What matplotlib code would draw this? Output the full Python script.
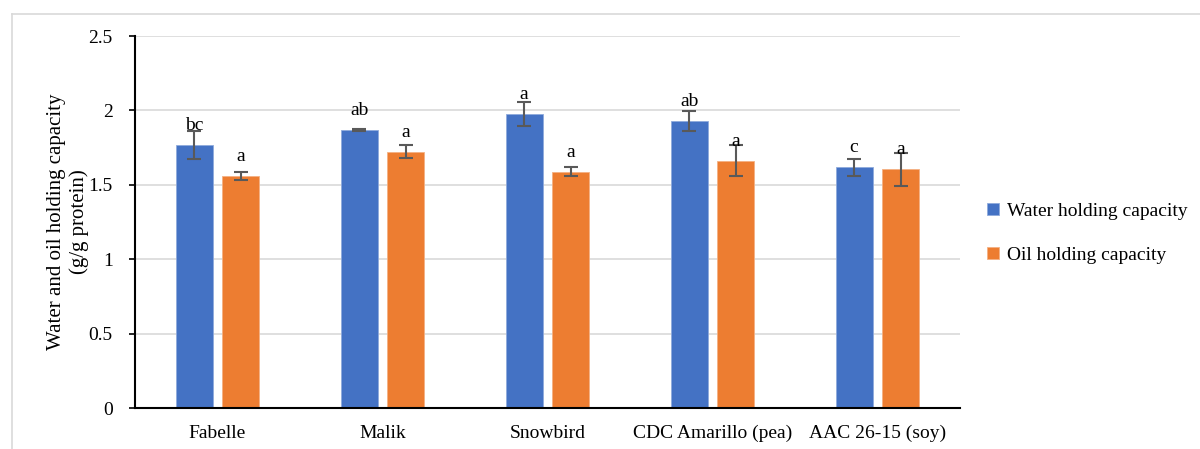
import matplotlib
matplotlib.use('Agg')
import matplotlib.pyplot as plt
from matplotlib.lines import Line2D
import numpy as np

plt.rcParams['font.family'] = ['Liberation Serif', 'DejaVu Serif']

# data
cultivars = ['Fabelle', 'Malik', 'Snowbird', 'CDC Amarillo (pea)', 'AAC 26-15 (soy)']
water = [1.767, 1.870, 1.974, 1.929, 1.617]
water_err = [0.096, 0.007, 0.081, 0.066, 0.059]
water_letters = ['bc', 'ab', 'a', 'ab', 'c']
oil = [1.559, 1.722, 1.588, 1.662, 1.604]
oil_err = [0.030, 0.045, 0.030, 0.103, 0.112]
oil_letters = ['a', 'a', 'a', 'a', 'a']

blue = '#4472C4'
orange = '#ED7D31'

fig = plt.figure(figsize=(12, 4.49), dpi=100)
ax = fig.add_axes([0.1125, 0.0913, 0.6875, 0.8285])

x = np.arange(len(cultivars))
w = 0.225
off = 0.142
err_kw = dict(ecolor='#595959', elinewidth=1.5, capsize=5, capthick=1.5)
b1 = ax.bar(x - off, water, w, yerr=water_err, color=blue, edgecolor='#8faadc',
            linewidth=0.6, error_kw=err_kw, label='Water holding capacity', zorder=2)
b2 = ax.bar(x + off, oil, w, yerr=oil_err, color=orange, edgecolor='#f4b183',
            linewidth=0.6, error_kw=err_kw, label='Oil holding capacity', zorder=2)

for xi, v, t in zip(x - off, water, water_letters):
    ax.annotate(t, (xi, v), xytext=(0, 8), textcoords='offset points',
                ha='center', va='bottom', fontsize=14, zorder=5)
for xi, v, t in zip(x + off, oil, oil_letters):
    ax.annotate(t, (xi, v), xytext=(0, 8), textcoords='offset points',
                ha='center', va='bottom', fontsize=14, zorder=5)

ax.set_xlim(-0.5, len(cultivars) - 0.5)
ax.set_ylim(0, 2.5)
ax.set_yticks([0, 0.5, 1, 1.5, 2, 2.5])
ax.set_yticklabels(['0', '0.5', '1', '1.5', '2', '2.5'])
ax.set_xticks(x)
ax.set_xticklabels(cultivars)
ax.tick_params(axis='y', length=4, width=1.2, labelsize=14, pad=12)
ax.tick_params(axis='x', length=0, labelsize=14, pad=12)
ax.grid(axis='y', color='#d9d9d9', linewidth=1.2, zorder=0)
ax.set_axisbelow(True)
for s in ['top', 'right']:
    ax.spines[s].set_visible(False)
ax.spines['left'].set_linewidth(1.5)
ax.spines['bottom'].set_linewidth(1.5)

ax.set_ylabel('Water and oil holding capacity\n(g/g protein)', fontsize=15,
              linespacing=1.2, labelpad=0)

fig.legend(handles=[b1, b2], loc='center left', bbox_to_anchor=(0.808, 0.48),
           frameon=False, fontsize=14, handlelength=0.6, handleheight=0.6,
           handletextpad=0.4, labelspacing=1.4)

# light frame around chart area
fig.add_artist(Line2D([0.01, 1.0], [1 - 14 / 449, 1 - 14 / 449], color='#d9d9d9',
                      linewidth=1.2, transform=fig.transFigure))
fig.add_artist(Line2D([0.01, 0.01], [0.0, 1 - 14 / 449], color='#d9d9d9',
                      linewidth=1.2, transform=fig.transFigure))

fig.savefig('out.png', dpi=100)
